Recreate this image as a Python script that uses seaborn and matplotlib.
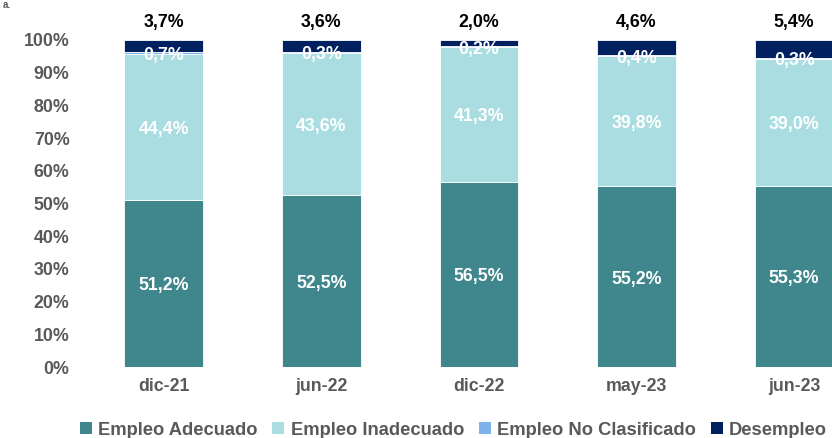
import matplotlib
matplotlib.use("Agg")
import matplotlib.pyplot as plt
from matplotlib.patches import Patch
import numpy as np
import pandas as pd
import seaborn as sns

periods = ["dic-21", "jun-22", "dic-22", "may-23", "jun-23"]
adecuado = [51.2, 52.5, 56.5, 55.2, 55.3]
inadecuado = [44.4, 43.6, 41.3, 39.8, 39.0]
no_clasificado = [0.7, 0.3, 0.2, 0.4, 0.3]
desempleo = [3.7, 3.6, 2.0, 4.6, 5.4]

series_names = ["Empleo Adecuado", "Empleo Inadecuado", "Empleo No Clasificado", "Desempleo"]
series_values = [adecuado, inadecuado, no_clasificado, desempleo]
colors = ["#3F878C", "#AADDE1", "#7FB2EA", "#002060"]

sns.set_theme(style="white")
plt.rcParams["font.family"] = ["Liberation Sans", "DejaVu Sans"]

fig = plt.figure(figsize=(8.32, 4.38), dpi=100)
ax = fig.add_axes([0.102, 0.162, 0.898, 0.747])

bottom = np.zeros(len(periods))
for name, vals, col in zip(series_names, series_values, colors):
    df = pd.DataFrame({"period": periods, "value": vals})
    sns.barplot(data=df, x="period", y="value", color=col, width=0.5,
                bottom=bottom.copy(), edgecolor="white", linewidth=0.6,
                saturation=1, ax=ax)
    bottom += np.array(vals)

def fmt(v):
    return f"{v:.1f}%".replace(".", ",")

x = np.arange(len(periods))
dy = -0.7  # small downward nudge for the label baselines
lab_kw = dict(ha="center", va="center", fontsize=12.8, fontweight="bold")
for i in range(len(periods)):
    a, b, c, d = adecuado[i], inadecuado[i], no_clasificado[i], desempleo[i]
    ax.text(x[i], a / 2 + dy, fmt(a), color="white", **lab_kw)
    ax.text(x[i], a + b / 2 + dy, fmt(b), color="white", **lab_kw)
    ax.text(x[i], a + b + c + dy - 0.3, fmt(c), color="white", **lab_kw)
    ax.text(x[i], 105.4, fmt(d), color="black", **lab_kw)

ax.set_ylim(0, 100)
ax.set_xlim(-0.5, 4.24)
ax.set_yticks(np.arange(0, 101, 10))
ax.set_yticklabels([f"{t}%" for t in range(0, 101, 10)])
ax.set_xlabel("")
ax.set_ylabel("")
for s in ax.spines.values():
    s.set_visible(False)
ax.tick_params(axis="y", length=0, pad=11, labelsize=12.8, labelcolor="#595959")
ax.tick_params(axis="x", length=0, pad=8, labelsize=12.8, labelcolor="#595959")
for t in ax.get_xticklabels() + ax.get_yticklabels():
    t.set_fontweight("bold")

handles = [Patch(facecolor=c, edgecolor="none") for c in colors]
fig.legend(handles, series_names, loc="center", bbox_to_anchor=(0.545, 0.018),
           ncol=4, frameon=False, handlelength=0.65, handleheight=0.65,
           handletextpad=0.35, columnspacing=0.8, labelcolor="#595959",
           prop={"weight": "bold", "size": 13.2})

fig.text(0.003, 1.0, "a.", fontsize=7, fontweight="bold", color="#595959",
         ha="left", va="top")

fig.savefig("out.png", dpi=100)
